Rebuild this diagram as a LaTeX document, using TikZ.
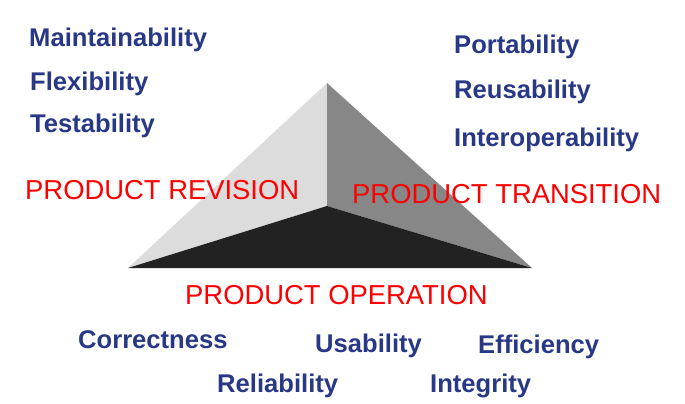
\documentclass[tikz,border=0pt]{standalone}
\usepackage{fontspec}
\setmainfont{Liberation Sans}
\definecolor{attr}{RGB}{40,56,134}
\definecolor{facelight}{RGB}{220,220,220}
\definecolor{facemid}{RGB}{135,135,135}
\definecolor{facedark}{RGB}{34,34,34}
\begin{document}
\begin{tikzpicture}[x=1pt,y=-1pt,
  factor/.style={anchor=base west,inner sep=0pt,text=attr,
    font=\fontsize{25.6}{30}\selectfont\bfseries},
  category/.style={anchor=base west,inner sep=0pt,text=red,
    font=\fontsize{27.4}{32}\selectfont}]
\useasboundingbox (0,0) rectangle (685,404);
% pyramid
\coordinate (apex) at (327,83);
\coordinate (bl) at (128,268);
\coordinate (br) at (532,268);
\coordinate (mid) at (327,206);
\fill[facelight] (apex) -- (bl) -- (mid) -- cycle;
\fill[facemid] (apex) -- (mid) -- (br) -- cycle;
\fill[facedark] (bl) -- (mid) -- (br) -- cycle;
% product revision
\node[factor] (maint) at (29,47) {Maintainability};
\node[factor] (flex) at (30,90) {Flexibility};
\node[factor] (test) at (30,132) {Testability};
\node[category] (rev) at (25,199) {PRODUCT REVISION};
% product transition
\node[factor] (port) at (454,53) {Portability};
\node[factor] (reuse) at (454,99) {Reusability};
\node[factor] (inter) at (454,146) {Interoperability};
\node[category] (trans) at (352,203) {PRODUCT TRANSITION};
% product operation
\node[category] (oper) at (185,304) {PRODUCT OPERATION};
\node[factor] (corr) at (78,348) {Correctness};
\node[factor] (usab) at (315,352) {Usability};
\node[factor] (effi) at (478,353) {Efficiency};
\node[factor] (reli) at (217,392) {Reliability};
\node[factor] (integ) at (430,392) {Integrity};
\end{tikzpicture}
\end{document}
